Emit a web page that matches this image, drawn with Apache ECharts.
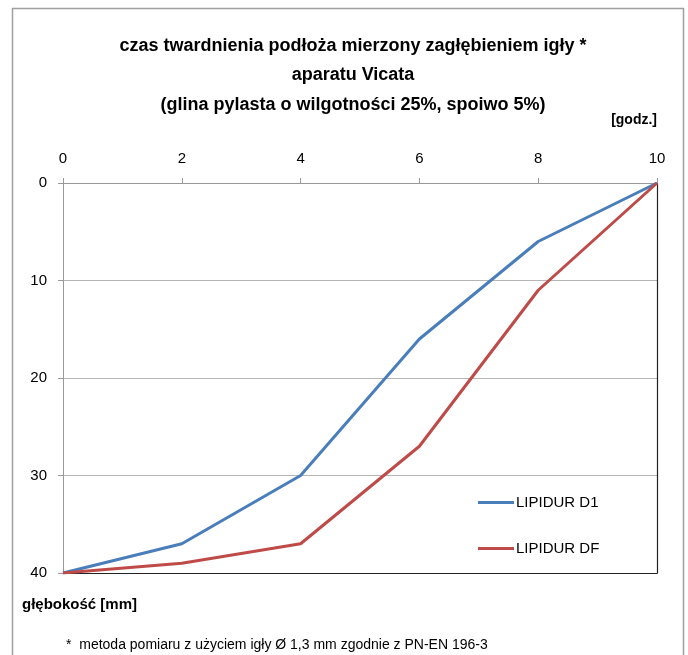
<!DOCTYPE html>
<html><head><meta charset="utf-8">
<script src="https://cdn.jsdelivr.net/npm/echarts@6/dist/echarts.min.js"></script>
<style>html,body{margin:0;padding:0;background:#fff}#c{width:688px;height:655px}</style>
</head><body><div id="c"></div>
<script>
const hours = [0, 2, 4, 6, 8, 10];
const lipidurD1 = [40, 37, 30, 16, 6, 0];
const lipidurDF = [40, 39, 37, 27, 11, 0];
const seriesNames = ['LIPIDUR D1', 'LIPIDUR DF'];
const FONT = '"Liberation Sans Narrow", "Arial Narrow", "Liberation Sans", sans-serif';

const chart = echarts.init(document.getElementById('c'));
chart.setOption({
  animation: false,
  textStyle: { fontFamily: FONT },
  title: {
    text: 'czas twardnienia podłoża mierzony zagłębieniem igły *\naparatu Vicata\n(glina pylasta o wilgotności 25%, spoiwo 5%)',
    left: 348, textAlign: 'center', top: 26,
    textStyle: { fontFamily: FONT, fontSize: 18, fontWeight: 'bold', color: '#000', lineHeight: 29.5 }
  },
  legend: {
    orient: 'vertical', left: 472, top: 491, itemGap: 31,
    itemWidth: 36, itemHeight: 3, icon: 'rect',
    textStyle: { fontFamily: FONT, fontSize: 15, color: '#000', padding: [0,0,0,-3] },
    backgroundColor: '#fff', padding: [4, 40, 10, 6],
    data: seriesNames
  },
  grid: { left: 63, right: 31, top: 183, bottom: 82, show: false },
  xAxis: [{
    type: 'value', position: 'top', min: 0, max: 10, interval: 2,
    axisLine: { show: true, onZero: false, lineStyle: { color: '#999' } },
    axisTick: { show: true, inside: false, length: 5, lineStyle: { color: '#999' } },
    axisLabel: { fontFamily: FONT, fontSize: 15, color: '#000', margin: 17 },
    splitLine: { show: false }
  }, {
    type: 'value', position: 'bottom', min: 0, max: 10, interval: 2,
    axisLine: { show: true, onZero: false, lineStyle: { color: '#222', width: 1.2 } },
    axisTick: { show: false }, axisLabel: { show: false }, splitLine: { show: false }
  }],
  yAxis: [{
    type: 'value', inverse: true, min: 0, max: 40, interval: 10,
    axisLine: { show: true, onZero: false, lineStyle: { color: '#999' } },
    axisTick: { show: true, length: 5, lineStyle: { color: '#999' } },
    axisLabel: { fontFamily: FONT, fontSize: 15, color: '#000', margin: 16 },
    splitLine: { show: true, showMaxLine: false, showMinLine: false, lineStyle: { color: '#b5b5b5' } }
  }, {
    type: 'value', position: 'right', inverse: true, min: 0, max: 40, interval: 10,
    axisLine: { show: true, onZero: false, lineStyle: { color: '#222', width: 1.2 } },
    axisTick: { show: false }, axisLabel: { show: false }, splitLine: { show: false }
  }],
  graphic: [
    { type: 'rect', shape: { x: 12.5, y: 8.5, width: 671, height: 700 }, style: { fill: 'none', stroke: '#a0a0a0', lineWidth: 1.5 }, z: -1 },
    { type: 'text', right: 31, top: 113, style: { text: '[godz.]', font: 'bold 14px ' + FONT, fill: '#000' } },
    { type: 'text', left: 22, top: 597, style: { text: 'głębokość [mm]', font: 'bold 15px ' + FONT, fill: '#000' } },
    { type: 'text', left: 66, top: 638, style: { text: '*  metoda pomiaru z użyciem igły Ø 1,3 mm zgodnie z PN-EN 196-3', font: '14px ' + FONT, fill: '#000' } }
  ],
  series: [
    { name: seriesNames[0], type: 'line', data: hours.map((h, i) => [h, lipidurD1[i]]), showSymbol: false, lineStyle: { width: 3, color: '#4A7EBB' }, itemStyle: { color: '#4A7EBB' } },
    { name: seriesNames[1], type: 'line', data: hours.map((h, i) => [h, lipidurDF[i]]), showSymbol: false, lineStyle: { width: 3, color: '#BE4B48' }, itemStyle: { color: '#BE4B48' } }
  ]
});
</script></body></html>
